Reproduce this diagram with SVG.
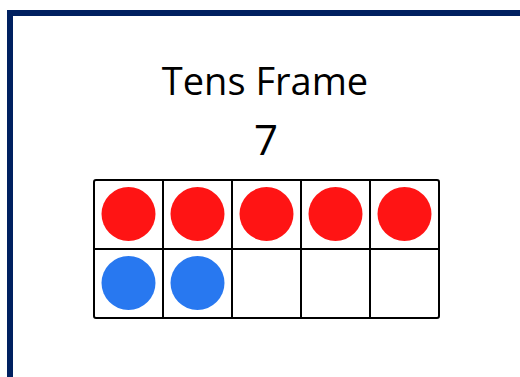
<svg xmlns="http://www.w3.org/2000/svg" width="520" height="377" viewBox="0 0 520 377">
<style>
.t{font-family:"Open Sans","Liberation Sans",sans-serif;fill:#000;text-anchor:middle}
.cell{fill:#fff;stroke:#000;stroke-width:2}
.red{fill:#FF1414}
.blue{fill:#2878F0}
</style>
<rect width="520" height="377" fill="#fff"/>
<path d="M10 380 V13 H525" fill="none" stroke="#002060" stroke-width="6"/>
<g id="title"><text class="t" x="265" y="95" font-size="38">Tens Frame</text></g>
<g id="number"><text class="t" x="266" y="155" font-size="42">7</text></g>
<g id="frame">
<rect class="cell" x="94" y="180" width="345" height="138" rx="2"/>
<path d="M163 180V318M232 180V318M301 180V318M370 180V318M94 249H439" stroke="#000" stroke-width="2" fill="none"/>
</g>
<g id="counters">
<circle class="red" cx="128.5" cy="214" r="27"/>
<circle class="red" cx="197.5" cy="214" r="27"/>
<circle class="red" cx="266.5" cy="214" r="27"/>
<circle class="red" cx="335.5" cy="214" r="27"/>
<circle class="red" cx="404.5" cy="214" r="27"/>
<circle class="blue" cx="128.5" cy="283" r="27"/>
<circle class="blue" cx="197.5" cy="283" r="27"/>
</g>
</svg>
